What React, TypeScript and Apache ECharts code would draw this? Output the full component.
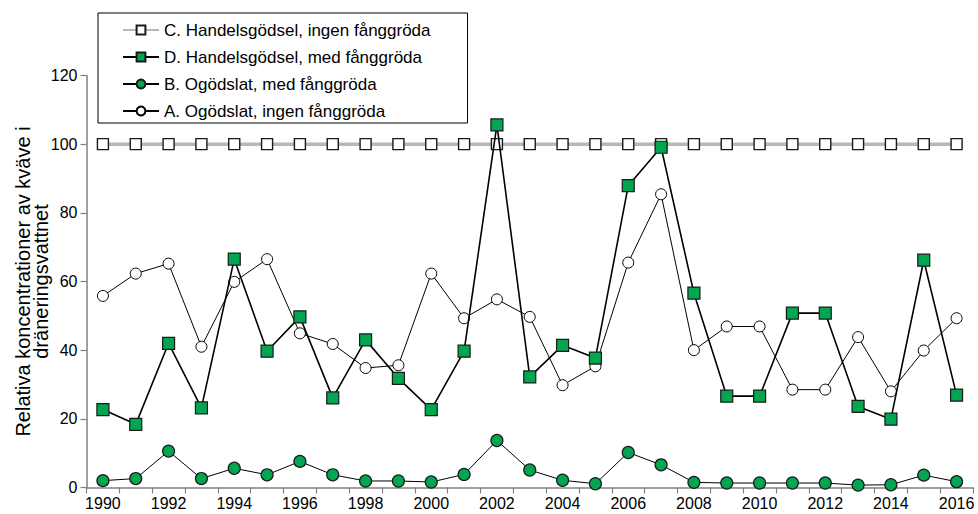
import React, { useEffect, useRef } from "react";
import * as echarts from "echarts";

const years = [
  "1990", "1991", "1992", "1993", "1994", "1995", "1996", "1997", "1998", "1999",
  "2000", "2001", "2002", "2003", "2004", "2005", "2006", "2007", "2008", "2009",
  "2010", "2011", "2012", "2013", "2014", "2015", "2016",
];

const seriesC = [
  100, 100, 100, 100, 100, 100, 100, 100, 100, 100, 100, 100, 100, 100,
  100, 100, 100, 100, 100, 100, 100, 100, 100, 100, 100, 100, 100,
];
const seriesD = [
  22.7, 18.4, 42.0, 23.2, 66.5, 39.7, 49.7, 26.1, 43.0, 31.8, 22.7, 39.7, 105.6, 32.2,
  41.4, 37.7, 87.9, 99.1, 56.6, 26.6, 26.6, 50.8, 50.8, 23.6, 19.9, 66.2, 26.9,
];
const seriesB = [
  2.0, 2.6, 10.6, 2.6, 5.6, 3.7, 7.6, 3.7, 1.9, 1.9, 1.6, 3.8, 13.7, 5.1,
  2.1, 1.1, 10.2, 6.6, 1.5, 1.3, 1.3, 1.3, 1.3, 0.7, 0.8, 3.6, 1.7,
];
const seriesA = [
  55.8, 62.3, 65.2, 41.0, 59.9, 66.5, 44.9, 41.8, 34.8, 35.6, 62.3, 49.3, 54.8, 49.7,
  29.8, 35.3, 65.5, 85.4, 40.0, 46.9, 46.9, 28.5, 28.5, 43.8, 28.0, 39.9, 49.3,
];

const nameC = "C. Handelsgödsel, ingen fånggröda";
const nameD = "D. Handelsgödsel, med fånggröda";
const nameB = "B. Ogödslat, med fånggröda";
const nameA = "A. Ogödslat, ingen fånggröda";
const yTitle = "Relativa koncentrationer av kväve i\ndräneringsvattnet";

const GREEN = "#00a650";
const FONT = "'Liberation Sans', Arial, sans-serif";

export default function App() {
  const ref = useRef<HTMLDivElement>(null);
  useEffect(() => {
    if (!ref.current) return;
    const chart = echarts.init(ref.current, undefined, { renderer: "svg" });
    chart.setOption({
      animation: false,
      textStyle: { fontFamily: FONT },
      grid: {
        left: 86.5,
        right: 5,
        top: 75.5,
        bottom: 26.5,
        containLabel: false,
        outerBoundsMode: "none",
      },
      legend: {
        orient: "vertical",
        left: 98,
        top: 13,
        data: [nameC, nameD, nameB, nameA],
        backgroundColor: "#fff",
        borderColor: "#000",
        borderWidth: 1,
        borderRadius: 0,
        padding: [7, 37, 2, 24],
        itemWidth: 36,
        itemHeight: 11,
        itemGap: 7,
        textStyle: { fontFamily: FONT, fontSize: 17, color: "#000", lineHeight: 20 },
      },
      xAxis: {
        type: "category",
        data: years,
        boundaryGap: true,
        axisLine: { show: true, lineStyle: { color: "#808080", width: 1.5 } },
        axisTick: { show: true, interval: 0, length: 6, lineStyle: { color: "#808080", width: 1.2 } },
        axisLabel: { interval: 1, margin: 8, fontSize: 16, color: "#000", fontFamily: FONT },
        splitLine: { show: false },
      },
      yAxis: {
        type: "value",
        min: 0,
        max: 120,
        interval: 20,
        name: yTitle,
        nameLocation: "middle",
        nameRotate: 90,
        nameGap: 37,
        nameMoveOverlap: false,
        nameTextStyle: { fontSize: 20, color: "#000", fontFamily: FONT, lineHeight: 18 },
        axisLine: { show: true, lineStyle: { color: "#808080", width: 1.5 } },
        axisTick: { show: true, length: 6, lineStyle: { color: "#808080", width: 1.2 } },
        axisLabel: { margin: 9, fontSize: 16, color: "#000", fontFamily: FONT },
        splitLine: { show: false },
      },
      series: [
        {
          name: nameC,
          type: "line",
          data: seriesC,
          symbol: "rect",
          symbolSize: 11,
          lineStyle: { color: "#b8b8b8", width: 3.5 },
          itemStyle: { color: "#fff", borderColor: "#1a1a1a", borderWidth: 1.4 },
          z: 2,
        },
        {
          name: nameA,
          type: "line",
          data: seriesA,
          symbol: "circle",
          symbolSize: 11,
          lineStyle: { color: "#000", width: 1 },
          itemStyle: { color: "#fff", borderColor: "#000", borderWidth: 1 },
          z: 3,
        },
        {
          name: nameD,
          type: "line",
          data: seriesD,
          symbol: "rect",
          symbolSize: 12,
          lineStyle: { color: "#000", width: 1.6 },
          itemStyle: { color: GREEN, borderColor: "#1a1a1a", borderWidth: 1.2 },
          z: 4,
        },
        {
          name: nameB,
          type: "line",
          data: seriesB,
          symbol: "circle",
          symbolSize: 12,
          lineStyle: { color: "#000", width: 1 },
          itemStyle: { color: GREEN, borderColor: "#1a1a1a", borderWidth: 1.2 },
          z: 5,
        },
      ],
    });
    return () => chart.dispose();
  }, []);
  return (
    <div
      ref={ref}
      style={{ position: "fixed", left: 0, top: 0, width: 978, height: 514, background: "#fff" }}
    />
  );
}
